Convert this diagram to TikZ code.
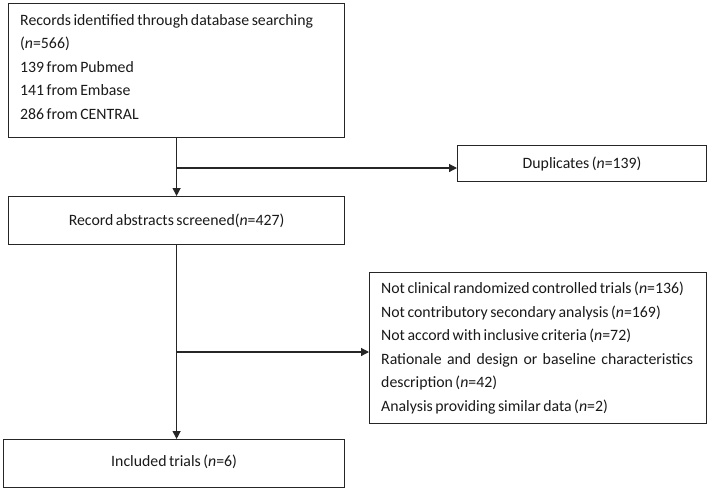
\documentclass[tikz,border=0pt]{standalone}
\usepackage{fontspec}
\setmainfont{Carlito}[WordSpace=0.7]
\usetikzlibrary{arrows.meta}
\begin{document}
\begin{tikzpicture}[x=1pt,y=1pt,
  txt/.style={font=\fontsize{15.8}{23.5}\selectfont, text=black!90},
  box/.style={draw=black!85, line width=1.2pt, inner sep=0pt, txt},
  conn/.style={draw=black!85, line width=1.2pt},
  arr/.style={conn, -{Triangle[length=8pt,width=8pt]}}]
\useasboundingbox (0,0) rectangle (709,-490);
\node[box, anchor=north west, minimum width=336pt, minimum height=134pt] (rec) at (8,-3) {};
\node[txt, anchor=north west, inner sep=0pt, align=left] (rect) at (20,-14)
  {Records identified through database searching\\(\textit{n}=566)\\139 from Pubmed\\141 from Embase\\286 from CENTRAL};
\node[box, anchor=north west, minimum width=336pt, minimum height=48pt] (scr) at (8,-196)
  {Record abstracts screened(\textit{n}=427)};
\node[box, anchor=north west, minimum width=341pt, minimum height=48pt] (inc) at (3,-439)
  {\raisebox{5pt}{Included trials (\textit{n}=6)}};
\node[box, anchor=north west, minimum width=249pt, minimum height=36pt] (dup) at (457,-145)
  {Duplicates (\textit{n}=139)};
\node[box, anchor=north west, minimum width=337pt, minimum height=151pt] (exc) at (369,-272) {};
\node[txt, anchor=north west, inner sep=0pt, align=left] (exct) at (381,-282)
  {Not clinical randomized controlled trials (\textit{n}=136)\\
   Not contributory secondary analysis (\textit{n}=169)\\
   Not accord with inclusive criteria (\textit{n}=72)\\
   \makebox[312pt][s]{Rationale and design or baseline characteristics}\\
   description (\textit{n}=42)\\
   Analysis providing similar data (\textit{n}=2)};
\coordinate (j1) at (176,-168);
\coordinate (j2) at (176,-352);
\draw[arr] (rec.south) -- (scr.north);
\draw[arr] (j1) -- (dup.west |- j1);
\draw[arr] (scr.south) -- (scr.south |- inc.north);
\draw[arr] (j2) -- (exc.west |- j2);
\end{tikzpicture}
\end{document}
